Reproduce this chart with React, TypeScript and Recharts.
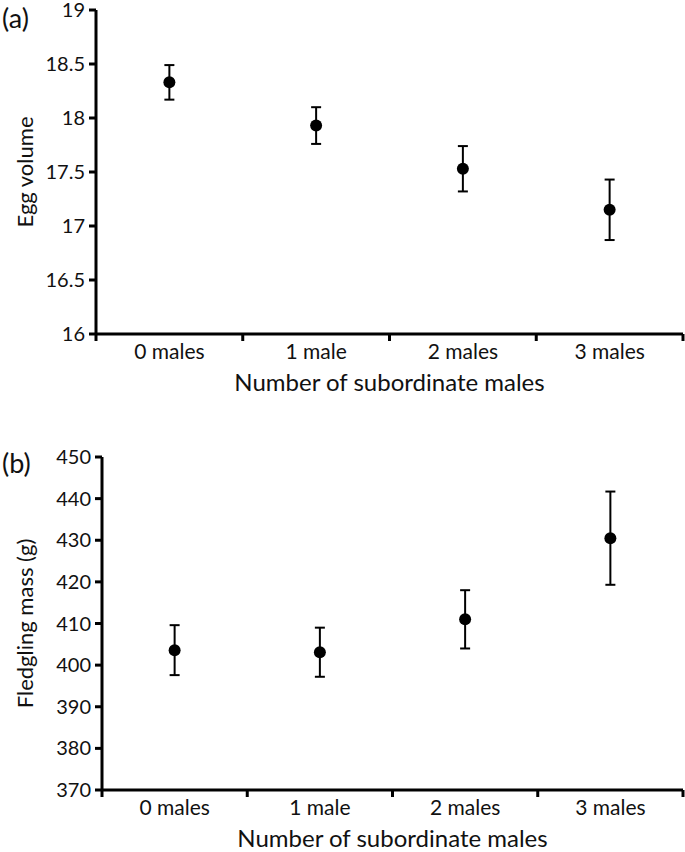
import { ComposedChart, Line, ErrorBar, XAxis, YAxis } from 'recharts';

const groups = ['0 males', '1 male', '2 males', '3 males'];
const groupTicks = [0, 0.5, 1, 1.5, 2, 2.5, 3, 3.5, 4];

const eggVolume = [18.33, 17.93, 17.53, 17.15];
const eggVolumeErr = [0.16, 0.17, 0.21, 0.28];
const eggTicks = [16, 16.5, 17, 17.5, 18, 18.5, 19];

const fledglingMass = [403.6, 403.1, 411.0, 430.5];
const fledglingMassErr = [6.0, 5.9, 7.0, 11.2];
const massTicks = [370, 380, 390, 400, 410, 420, 430, 440, 450];

const eggRows = groups.map((g, i) => ({ pos: i + 0.5, group: g, value: eggVolume[i], err: eggVolumeErr[i] }));
const massRows = groups.map((g, i) => ({ pos: i + 0.5, group: g, value: fledglingMass[i], err: fledglingMassErr[i] }));

const INK = '#000';
const TEXT = '#111';

// integer ticks = boundary marks, half ticks = category names
function GroupTick(props: any) {
  const { x, y, payload } = props;
  const v = payload.value;
  if (Number.isInteger(v)) {
    return <line x1={x} x2={x} y1={y} y2={y + 7} stroke={INK} strokeWidth={3} />;
  }
  return (
    <text x={x} y={y + 25} textAnchor="middle" fontSize={21} fill={TEXT}>
      {groups[Math.floor(v)]}
    </text>
  );
}

function XTitle(props: any) {
  const { viewBox, text } = props;
  const cx = viewBox.x + viewBox.width / 2;
  return (
    <text x={cx} y={viewBox.y + 57} textAnchor="middle" fontSize={24} fill={TEXT}>
      {text}
    </text>
  );
}

function YTitle(props: any) {
  const { viewBox, text, titleX } = props;
  const cy = viewBox.y + viewBox.height / 2;
  return (
    <text
      x={titleX}
      y={cy}
      transform={`rotate(-90 ${titleX} ${cy})`}
      textAnchor="middle"
      dominantBaseline="central"
      fontSize={22}
      fill={TEXT}
    >
      {text}
    </text>
  );
}

function Panel({
  rows,
  ticks,
  domain,
  yTitle,
  yWidth,
  height,
  top,
  xHeight,
}: {
  rows: { pos: number; value: number; err: number }[];
  ticks: number[];
  domain: [number, number];
  yTitle: string;
  yWidth: number;
  height: number;
  top: number;
  xHeight: number;
}) {
  return (
    <ComposedChart width={685} height={height} data={rows} margin={{ top, right: 2, bottom: 0, left: 0 }}>
      <XAxis
        type="number"
        dataKey="pos"
        domain={[0, 4]}
        ticks={groupTicks}
        interval={0}
        tickLine={false}
        tickSize={0}
        tickMargin={0}
        tick={<GroupTick />}
        axisLine={{ stroke: INK, strokeWidth: 3 }}
        height={xHeight}
        label={<XTitle text="Number of subordinate males" />}
      />
      <YAxis
        type="number"
        domain={domain}
        ticks={ticks}
        interval={0}
        width={yWidth}
        tick={{ fill: TEXT, fontSize: 20 }}
        tickLine={{ stroke: INK, strokeWidth: 3 }}
        tickSize={7}
        tickMargin={4}
        axisLine={{ stroke: INK, strokeWidth: 3 }}
        label={<YTitle text={yTitle} titleX={24} />}
      />
      <Line
        dataKey="value"
        stroke="none"
        dot={{ r: 6, fill: INK, stroke: INK, strokeWidth: 0 }}
        activeDot={false}
        isAnimationActive={false}
      >
        <ErrorBar dataKey="err" direction="y" width={5} stroke={INK} strokeWidth={2} />
      </Line>
    </ComposedChart>
  );
}

export default function App() {
  return (
    <div
      style={{
        position: 'absolute',
        left: 0,
        top: 0,
        width: 685,
        height: 852,
        background: '#fff',
        fontFamily: 'Lato, sans-serif',
      }}
    >
      <div style={{ position: 'absolute', left: 0, top: 0 }}>
        <Panel
          rows={eggRows}
          ticks={eggTicks}
          domain={[16, 19]}
          yTitle="Egg volume"
          yWidth={96}
          height={422}
          top={10}
          xHeight={88}
        />
      </div>
      <div style={{ position: 'absolute', left: 0, top: 422 }}>
        <Panel
          rows={massRows}
          ticks={massTicks}
          domain={[370, 450]}
          yTitle="Fledgling mass (g)"
          yWidth={102}
          height={430}
          top={35}
          xHeight={62}
        />
      </div>
      <div style={{ position: 'absolute', left: 2, top: 0, fontSize: 27, lineHeight: '36px', color: TEXT }}>(a)</div>
      <div style={{ position: 'absolute', left: 2, top: 445, fontSize: 27, lineHeight: '36px', color: TEXT }}>(b)</div>
    </div>
  );
}
